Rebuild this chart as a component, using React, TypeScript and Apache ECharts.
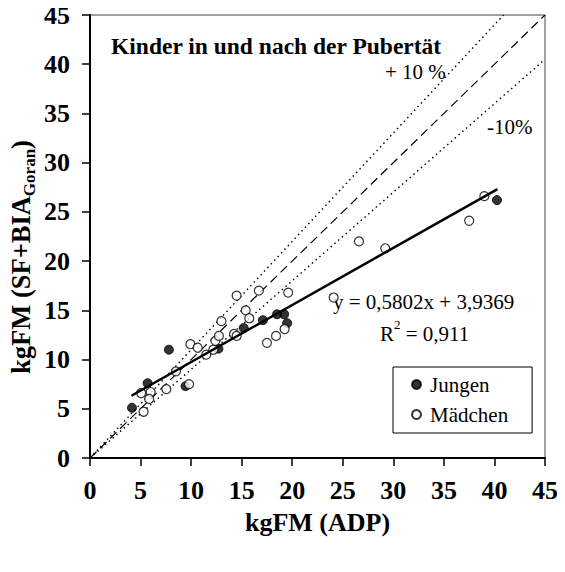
import React, { useEffect, useRef } from "react";
import * as echarts from "echarts";

const FONT = "Liberation Serif";

const xTicks = [0, 5, 10, 15, 20, 25, 30, 35, 40, 45];
const yTicks = [0, 5, 10, 15, 20, 25, 30, 35, 40, 45];

const jungen: [number, number][] = [
  [4.15, 5.1], [5.7, 7.6], [7.8, 11.0], [9.45, 7.3], [12.7, 11.1],
  [15.2, 13.2], [17.1, 14.0], [18.5, 14.6], [19.2, 14.6], [19.5, 13.7],
  [40.25, 26.2],
];

const maedchen: [number, number][] = [
  [5.06, 6.6], [5.3, 4.7], [6.0, 6.7], [5.85, 6.0], [7.55, 7.0],
  [8.5, 8.8], [9.8, 7.5], [9.93, 11.56], [10.65, 11.2], [11.5, 10.5],
  [12.2, 11.0], [12.4, 11.9], [12.75, 12.4], [13.0, 13.9], [14.25, 12.6],
  [14.5, 12.4], [14.5, 16.5], [15.4, 15.0], [15.75, 14.2], [16.7, 17.0],
  [17.5, 11.7], [18.4, 12.4], [19.25, 13.1], [19.6, 16.8], [24.1, 16.3],
  [26.6, 22.0], [29.2, 21.3], [37.5, 24.1], [39.0, 26.6],
];

const identityLine: [number, number][] = [[0, 0], [45, 45]];
const plus10Line: [number, number][] = [[0, 0], [40.9, 45]];
const minus10Line: [number, number][] = [[0, 0], [45, 40.5]];
const regressionLine: [number, number][] = [[4.1, 6.32], [40.3, 27.32]];

export default function App() {
  const ref = useRef<HTMLDivElement>(null);
  useEffect(() => {
    if (!ref.current) return;
    const chart = echarts.init(ref.current, null, { renderer: "svg" });
    const axisCommon = {
      type: "value" as const,
      min: 0,
      max: 45,
      interval: 5,
      axisLine: { show: true, lineStyle: { color: "#000", width: 2 } },
      axisTick: { show: true, inside: false, length: 8, lineStyle: { color: "#000", width: 1.5 } },
      splitLine: { show: false },
    };
    chart.setOption({
      animation: false,
      backgroundColor: "#fff",
      textStyle: { fontFamily: FONT },
      title: {
        text: "Kinder in und nach der Pubertät",
        left: 106,
        top: 29,
        textStyle: { fontFamily: FONT, fontSize: 23.5, fontWeight: "bold", color: "#000" },
      },
      grid: {
        left: 90, top: 15, right: 20, bottom: 114,
        show: true, borderColor: "#444", borderWidth: 1, backgroundColor: "transparent",
      },
      xAxis: {
        ...axisCommon,
        axisLabel: {
          fontFamily: FONT, fontSize: 26, fontWeight: "bold", color: "#000", margin: 19,
          formatter: (v: number) => (xTicks.includes(v) ? String(v) : ""),
        },
        name: "kgFM (ADP)",
        nameLocation: "middle",
        nameGap: 51,
        nameTextStyle: { fontFamily: FONT, fontSize: 26, fontWeight: "bold", color: "#000" },
      },
      yAxis: {
        ...axisCommon,
        axisLabel: {
          fontFamily: FONT, fontSize: 26, fontWeight: "bold", color: "#000", margin: 20,
          formatter: (v: number) => (yTicks.includes(v) ? String(v) : ""),
        },
      },
      legend: {
        orient: "vertical",
        left: 393,
        top: 367,
        data: ["Jungen", "Mädchen"],
        icon: "circle",
        itemWidth: 9,
        itemHeight: 9,
        itemGap: 9,
        padding: [7, 24, 8, 18],
        borderColor: "#000",
        borderWidth: 1,
        backgroundColor: "#fff",
        textStyle: { fontFamily: FONT, fontSize: 21, color: "#000", padding: [0, 0, 0, 4] },
      },
      graphic: [
        {
          type: "text",
          x: 21,
          y: 257,
          rotation: Math.PI / 2,
          style: {
            text: "{a|kgFM (SF+BIA}{b|Goran}{a|)}",
            align: "center",
            verticalAlign: "middle",
            rich: {
              a: { fontFamily: FONT, fontSize: 26.5, fontWeight: "bold", fill: "#000", lineHeight: 34, verticalAlign: "middle" },
              b: { fontFamily: FONT, fontSize: 17, fontWeight: "bold", fill: "#000", lineHeight: 17, verticalAlign: "bottom" },
            },
          },
        },
        {
          type: "text", left: 385, top: 61,
          style: { text: "+ 10 %", fontFamily: FONT, fontSize: 21, fill: "#000" },
        },
        {
          type: "text", left: 487, top: 116,
          style: { text: "-10%", fontFamily: FONT, fontSize: 21, fill: "#000" },
        },
        {
          type: "text", left: 333, top: 291,
          style: { text: "y = 0,5802x + 3,9369", fontFamily: FONT, fontSize: 21, fill: "#000" },
        },
        {
          type: "text", left: 380, top: 318,
          style: {
            text: "{a|R}{s|2}{a| = 0,911}",
            rich: {
              a: { fontFamily: FONT, fontSize: 21, fill: "#000", lineHeight: 26, verticalAlign: "bottom" },
              s: { fontFamily: FONT, fontSize: 13, fill: "#000", lineHeight: 26, verticalAlign: "top" },
            },
          },
        },
      ],
      series: [
        {
          type: "line", data: identityLine, symbol: "none", silent: true,
          lineStyle: { color: "#000", width: 1.2, type: [9, 5] },
        },
        {
          type: "line", data: plus10Line, symbol: "none", silent: true,
          lineStyle: { color: "#000", width: 1.4, type: [1.5, 3.5] },
        },
        {
          type: "line", data: minus10Line, symbol: "none", silent: true,
          lineStyle: { color: "#000", width: 1.4, type: [1.5, 3.5] },
        },
        {
          name: "Jungen", type: "scatter", data: jungen, symbol: "circle", symbolSize: 9,
          itemStyle: { color: "#000", borderColor: "#000", borderWidth: 1 },
          z: 5,
        },
        {
          name: "Mädchen", type: "scatter", data: maedchen, symbol: "circle", symbolSize: 9,
          itemStyle: { color: "#fff", borderColor: "#000", borderWidth: 1.2 },
          z: 5,
        },
        {
          type: "line", data: regressionLine, symbol: "none", silent: true,
          lineStyle: { color: "#000", width: 2.5 }, z: 6,
        },
      ],
    });
    return () => chart.dispose();
  }, []);
  return <div ref={ref} style={{ width: 565, height: 572, margin: -8 }} />;
}
